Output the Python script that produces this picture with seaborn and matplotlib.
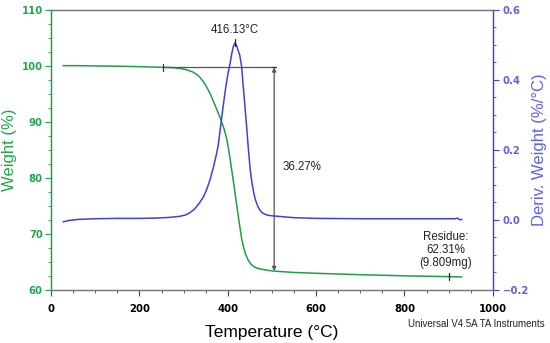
import pandas as pd
import numpy as np
import matplotlib
matplotlib.use('Agg')
import matplotlib.pyplot as plt
import seaborn as sns

# TGA weight curve
weight_temp = [27, 60, 100, 150, 200, 254, 275, 292, 305, 320, 330, 337, 345, 352, 360,
               367, 375, 385, 392, 398, 404, 409, 414, 420, 426, 431, 435, 440, 446, 452,
               458, 465, 475, 490, 503, 550, 600, 700, 800, 900, 930]
weight_pct = [100.0, 100.0, 99.95, 99.9, 99.82, 99.7, 99.65, 99.5, 99.3, 98.9, 98.4, 97.9,
              97.1, 96.2, 95.0, 93.7, 92.2, 90.2, 88.6, 86.8, 84.0, 81.3, 78.6, 75.2, 71.9,
              69.3, 67.8, 66.4, 65.3, 64.6, 64.2, 63.9, 63.7, 63.5, 63.35, 63.1, 62.95, 62.7,
              62.5, 62.35, 62.3]

# DTG curve
deriv_temp = [27, 40, 60, 100, 150, 200, 240, 270, 292, 305, 314, 325, 337, 345, 352, 360,
              367, 373, 378, 383, 389, 395, 400, 405, 409, 413, 416.13, 419, 423, 427, 431,
              435, 439, 443, 447, 451, 455, 459, 463, 468, 474, 480, 490, 503, 550, 600, 700,
              800, 900, 915, 920, 925, 930]
deriv_val = [-0.006, -0.002, 0.001, 0.003, 0.004, 0.004, 0.005, 0.007, 0.01, 0.014, 0.02,
             0.031, 0.05, 0.066, 0.086, 0.115, 0.148, 0.18, 0.21, 0.26, 0.32, 0.375, 0.415,
             0.445, 0.475, 0.497, 0.505, 0.5, 0.485, 0.47, 0.44, 0.38, 0.32, 0.26, 0.195,
             0.14, 0.103, 0.075, 0.055, 0.038, 0.025, 0.018, 0.013, 0.011, 0.006, 0.004,
             0.003, 0.003, 0.003, 0.003, 0.005, 0.0, 0.001]

peak_temp = 416.13
peak_val = 0.505
step_start, step_end = 254, 505
step_top, step_bottom = 99.7, 63.35
residue_temp = 900

green = '#1f9e45'
green_txt = '#22a64a'
blue = '#4040d8'
blue_txt = '#6262e0'

df_w = pd.DataFrame({'T': weight_temp, 'W': weight_pct})
df_d = pd.DataFrame({'T': deriv_temp, 'D': deriv_val})

sns.set_style('ticks')
plt.rcParams['font.family'] = ['Liberation Sans', 'DejaVu Sans']

fig = plt.figure(figsize=(5.5, 3.43), dpi=100)
ax = fig.add_axes([0.093, 0.155, 0.803, 0.817])
ax2 = ax.twinx()

sns.lineplot(data=df_w, x='T', y='W', ax=ax, color=green, lw=1.1, sort=False)
sns.lineplot(data=df_d, x='T', y='D', ax=ax2, color=blue, lw=1.1, sort=False)

ax.set_xlim(0, 1000)
ax.set_ylim(60, 110)
ax2.set_ylim(-0.2, 0.6)
ax.set_xticks([0, 200, 400, 600, 800, 1000])
ax.set_xticks(np.arange(0, 1001, 50), minor=True)
ax.set_yticks([60, 70, 80, 90, 100, 110])
ax.set_yticks(np.arange(60, 110.1, 2.5), minor=True)
ax2.set_yticks([-0.2, 0.0, 0.2, 0.4, 0.6])
ax2.set_yticks(np.arange(-0.2, 0.61, 0.05), minor=True)
ax2.set_yticklabels(['\u22120.2', '0.0', '0.2', '0.4', '0.6'])

tick_font = dict(family='DejaVu Sans', weight='bold', size=7.3)
for lab in ax.get_xticklabels():
    lab.set_fontproperties(tick_font)
for lab in ax.get_yticklabels():
    lab.set_fontproperties(tick_font)
for lab in ax2.get_yticklabels():
    lab.set_fontproperties(tick_font)

ax.tick_params(axis='x', which='major', length=4, width=0.8, colors='#444444', pad=6)
ax.tick_params(axis='x', which='minor', length=2, width=0.6, colors='#444444')
ax.tick_params(axis='x', labelcolor='black')
ax.tick_params(axis='y', which='major', length=4, width=0.8, colors=green, pad=2)
ax.tick_params(axis='y', which='minor', length=2, width=0.6, colors=green)
ax.tick_params(axis='y', labelcolor=green_txt)
ax2.tick_params(axis='y', which='major', length=4, width=0.8, colors=blue, pad=3)
ax2.tick_params(axis='y', which='minor', length=2, width=0.6, colors=blue)
ax2.tick_params(axis='y', labelcolor=blue_txt)

for a in (ax, ax2):
    a.spines['top'].set_color('#777777')
    a.spines['bottom'].set_color('#777777')
    a.spines['left'].set_color(green)
    a.spines['right'].set_color(blue)
    for s in a.spines.values():
        s.set_linewidth(0.9)

ax.set_xlabel('Temperature (\u00b0C)', fontsize=12.5, color='black', labelpad=8)
ax.set_ylabel('Weight (%)', fontsize=12, color=green_txt, labelpad=3)
ax2.set_ylabel('Deriv. Weight (%/\u00b0C)', fontsize=12, color=blue_txt, labelpad=2)

# step annotation
ax.plot([step_start, step_end], [step_top, step_top], color='#555555', lw=0.9)
ax.plot([step_start, step_start], [step_top - 0.6, step_top + 0.6], color='#333333', lw=0.9)
ax.annotate('', xy=(step_end, step_bottom), xytext=(step_end, step_top),
            arrowprops=dict(arrowstyle='<|-|>', color='#555555', lw=0.9,
                            mutation_scale=6, shrinkA=0, shrinkB=0))
ax.plot([step_end - 4, step_end + 4], [step_top, step_top], color='#333333', lw=0.9)
ax.text(step_end + 18, 82, '36.27%', fontsize=8.3, color='#222222', va='center', ha='left')

# peak label
ax2.plot([peak_temp, peak_temp], [peak_val - 0.01, peak_val + 0.01], color='#222222', lw=0.9)
ax2.text(peak_temp, peak_val + 0.036, '416.13\u00b0C', fontsize=8.3, color='#222222',
         ha='center', va='center')

# residue
ax.plot([residue_temp, residue_temp], [62.35 - 0.6, 62.35 + 0.6], color='#222222', lw=0.9)
ax.text(893, 67.1, 'Residue:\n62.31%\n(9.809mg)', fontsize=8.3, color='#222222',
        ha='center', va='center', linespacing=1.15)

fig.text(0.99, 0.055, 'Universal V4.5A TA Instruments', fontsize=7, color='#222222',
         ha='right', va='center')

fig.savefig('out.png', dpi=100)
